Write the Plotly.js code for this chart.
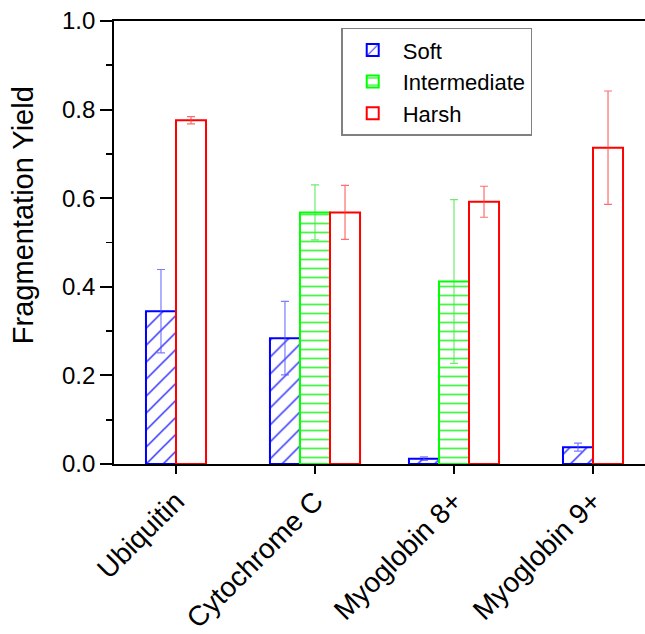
<!DOCTYPE html>
<html>
<head>
<meta charset="utf-8">
<script src="https://cdn.plot.ly/plotly-3.0.1.min.js"></script>
<style>
html,body{margin:0;padding:0;overflow:hidden;background:#fff;}
#chart{width:660px;height:634px;}
</style>
</head>
<body>
<div id="chart"></div>
<script>
// ---- data ----
const categories = ['Ubiquitin', 'Cytochrome C', 'Myoglobin 8+', 'Myoglobin 9+'];
const seriesNames = ['Soft', 'Intermediate', 'Harsh'];
const softValues = [0.345, 0.284, 0.012, 0.038];
const softErrors = [0.094, 0.083, 0.004, 0.009];
const intermediateValues = [null, 0.568, 0.412, null];
const intermediateErrors = [null, 0.062, 0.185, null];
const harshValues = [0.776, 0.568, 0.592, 0.714];
const harshErrors = [0.008, 0.061, 0.035, 0.128];
const yTickValues = [0, 0.2, 0.4, 0.6, 0.8, 1.0];

// ---- styling ----
const FONT = 'Liberation Sans, Arial, sans-serif';
const BAR_W = 0.216;
const allValues = [softValues, intermediateValues, harshValues];
const allErrors = [softErrors, intermediateErrors, harshErrors];
const styles = [
  {line: '#0000ff', err: 'rgba(80,80,255,0.75)', pattern: {shape: '/', size: 12, solidity: 0.13, fgcolor: 'rgba(30,30,255,0.9)', bgcolor: '#ffffff', fillmode: 'replace'}},
  {line: '#00ff00', err: 'rgba(60,230,60,0.75)', pattern: {shape: '-', size: 9, solidity: 0.2, fgcolor: 'rgba(40,245,40,0.85)', bgcolor: '#ffffff', fillmode: 'replace'}},
  {line: '#ff0000', err: 'rgba(255,60,60,0.75)', pattern: null}
];

// bars present in each category are laid side by side, centred on the tick
const offsets = allValues.map(() => categories.map(() => null));
categories.forEach((c, i) => {
  const present = [];
  allValues.forEach((vals, s) => { if (vals[i] !== null) present.push(s); });
  const n = present.length;
  present.forEach((s, k) => { offsets[s][i] = (-n / 2 + k) * BAR_W; });
});

const traces = seriesNames.map((name, s) => {
  const st = styles[s];
  const marker = {color: '#ffffff', line: {color: st.line, width: 2}};
  if (st.pattern) marker.pattern = st.pattern;
  return {
    type: 'bar',
    name: name,
    x: categories,
    y: allValues[s],
    width: BAR_W,
    offset: offsets[s],
    marker: marker,
    error_y: {type: 'data', array: allErrors[s], visible: true, color: st.err, thickness: 1.2, width: 4}
  };
});

const layout = {
  width: 660, height: 634,
  margin: {l: 114, r: 5, t: 21, b: 170},
  paper_bgcolor: '#ffffff', plot_bgcolor: '#ffffff',
  font: {family: FONT, color: '#000000'},
  barmode: 'overlay',
  showlegend: true,
  legend: {
    x: 0.42, y: 0.985, xanchor: 'left', yanchor: 'top',
    bgcolor: '#ffffff', bordercolor: '#808080', borderwidth: 1.5,
    font: {family: FONT, size: 22, color: '#000000'},
    itemwidth: 50, tracegroupgap: 0
  },
  xaxis: {
    type: 'category',
    range: [-0.446, 3.446],
    showline: true, linecolor: '#000000', linewidth: 1.8, mirror: true,
    ticks: 'outside', ticklen: 8, tickwidth: 1.8, tickcolor: '#000000',
    tickangle: -45,
    tickfont: {family: FONT, size: 28, color: '#000000'},
    showgrid: false, zeroline: false
  },
  yaxis: {
    range: [0, 1],
    tickvals: yTickValues,
    tickformat: '.1f',
    showline: true, linecolor: '#000000', linewidth: 1.8, mirror: true,
    ticks: 'outside', ticklen: 12, tickwidth: 1.8, tickcolor: '#000000',
    minor: {dtick: 0.1, ticks: 'outside', ticklen: 6, tickwidth: 1.8, tickcolor: '#000000', showgrid: false},
    tickfont: {family: FONT, size: 24, color: '#000000'},
    showgrid: false, zeroline: false
  },
  annotations: [{
    text: 'Fragmentation Yield',
    xref: 'paper', yref: 'paper',
    x: -0.168, y: 0.562, xanchor: 'center', yanchor: 'middle',
    textangle: -90, showarrow: false,
    font: {family: FONT, size: 29, color: '#000000'}
  }]
};

Plotly.newPlot('chart', traces, layout, {displayModeBar: false, staticPlot: true});
</script>
</body>
</html>
